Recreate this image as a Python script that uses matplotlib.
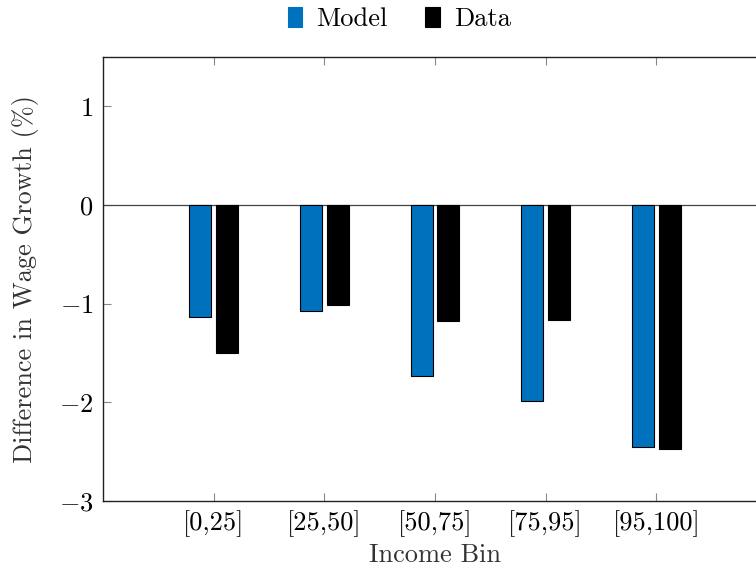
import matplotlib
matplotlib.use('Agg')
import matplotlib.pyplot as plt
import numpy as np

# Income bins and the two series (difference in wage growth, %)
bins = ['[0,25]', '[25,50]', '[50,75]', '[75,95]', '[95,100]']
model = [-1.13, -1.07, -1.73, -1.99, -2.45]
data = [-1.50, -1.01, -1.18, -1.17, -2.47]

plt.rcParams['font.family'] = ['cmr10']
plt.rcParams['mathtext.fontset'] = 'cm'
plt.rcParams['axes.formatter.use_mathtext'] = True

fig = plt.figure(figsize=(7.56, 5.69), dpi=100)
ax = fig.add_axes([0.1362, 0.1195, 0.8784, 0.7803])

x = np.arange(len(bins))
w = 0.2
ax.bar(x - 0.12, model, w, color='#0072BD', edgecolor='black', lw=0.8, label='Model', zorder=3)
ax.bar(x + 0.12, data, w, color='black', edgecolor='black', lw=0.8, label='Data', zorder=3)
ax.axhline(0, color='#444444', lw=0.9, zorder=2)

ax.set_xlim(-1, 5)
ax.set_ylim(-3, 1.5)
ax.set_xticks(x)
ax.set_xticklabels(bins)
ax.set_yticks([-3, -2, -1, 0, 1])
ax.tick_params(direction='in', length=6, color='#888888', labelsize=19, top=True, pad=7)
ax.set_xlabel('Income Bin', fontsize=19, color='#333333', labelpad=4)
ax.set_ylabel('Difference in Wage Growth (%)', fontsize=19, color='#333333', labelpad=14)
for s in ax.spines.values():
    s.set_linewidth(1.0)
    s.set_color('#222222')

leg = ax.legend(loc='lower center', bbox_to_anchor=(0.446, 1.034), ncol=2, frameon=False,
                fontsize=19, handlelength=0.55, handleheight=0.8, handletextpad=0.54,
                columnspacing=1.42, borderaxespad=0)
for h in leg.legend_handles:
    h.set_edgecolor(h.get_facecolor())

fig.savefig('out.png', dpi=100)
